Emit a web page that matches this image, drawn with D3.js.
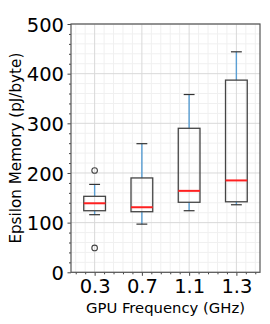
<!DOCTYPE html>
<html><head><meta charset="utf-8">
<script src="https://cdn.jsdelivr.net/npm/d3@7"></script>
<style>body{margin:0;background:#fff}svg{display:block}text{font-family:"DejaVu Sans",sans-serif;fill:#000}</style>
</head><body>
<svg id="c" width="270" height="324"></svg>
<script>
const categories = ["0.3", "0.7", "1.1", "1.3"];
const whiskerLow = [116, 97, 124, 136];
const q1 = [124, 122, 141, 142];
const median = [139, 131, 164, 185];
const q3 = [153, 190, 290, 387];
const whiskerHigh = [177, 259, 358, 444];
const outliers = [[205, 49], [], [], []];
const yTicks = [0, 100, 200, 300, 400, 500];

const svg = d3.select("#c");
const L = 71, R = 260, T = 24, B = 272.3;
const x = d3.scaleLinear().domain([0.5, categories.length + 0.5]).range([L, R]);
const y = d3.scaleLinear().domain([0, 500]).range([B, T]);

// minor grid
const minorX = d3.range(0.6, 4.5, 0.2).filter(v => Math.abs(v - Math.round(v)) > 0.01);
const minorY = d3.range(20, 500, 20).filter(v => v % 100 !== 0);
const g = svg.append("g");
g.selectAll(".mx").data(minorX).join("line").attr("x1", d => x(d)).attr("x2", d => x(d))
  .attr("y1", T).attr("y2", B).attr("stroke", "#f0f0f0").attr("stroke-width", 1);
g.selectAll(".my").data(minorY).join("line").attr("y1", d => y(d)).attr("y2", d => y(d))
  .attr("x1", L).attr("x2", R).attr("stroke", "#f0f0f0").attr("stroke-width", 1);
// major grid
g.selectAll(".gx").data(categories).join("line").attr("x1", (d, i) => x(i + 1)).attr("x2", (d, i) => x(i + 1))
  .attr("y1", T).attr("y2", B).attr("stroke", "#d9d9d9").attr("stroke-width", 1);
g.selectAll(".gy").data(yTicks).join("line").attr("y1", d => y(d)).attr("y2", d => y(d))
  .attr("x1", L).attr("x2", R).attr("stroke", "#d9d9d9").attr("stroke-width", 1);

// axes
const yAxis = svg.append("g").attr("transform", `translate(${L},0)`)
  .call(d3.axisLeft(y).tickValues(yTicks).tickSize(3.5).tickPadding(3.5).tickFormat(d3.format("d")));
yAxis.select(".domain").remove();
yAxis.selectAll("text").style("font-size", "19.5px").attr("dy", "0.36em");
const yMinor = svg.append("g").attr("transform", `translate(${L},0)`)
  .call(d3.axisLeft(y).tickValues(minorY).tickSize(2).tickFormat(""));
yMinor.select(".domain").remove();

const xAxis = svg.append("g").attr("transform", `translate(0,${B})`)
  .call(d3.axisBottom(x).tickValues(categories.map((d, i) => i + 1)).tickSize(3.5).tickPadding(3)
    .tickFormat((d, i) => categories[i]));
xAxis.select(".domain").remove();
xAxis.selectAll("text").style("font-size", "19.5px");
const xMinor = svg.append("g").attr("transform", `translate(0,${B})`)
  .call(d3.axisBottom(x).tickValues(minorX).tickSize(2).tickFormat(""));
xMinor.select(".domain").remove();
svg.selectAll(".tick line").attr("stroke", "#444");

// frame
svg.append("rect").attr("x", L).attr("y", T).attr("width", R - L).attr("height", B - T)
  .attr("fill", "none").attr("stroke", "#555").attr("stroke-width", 1.2);

// boxes
const bw = 0.46, cw = 0.23;
const box = svg.append("g");
categories.forEach((c, i) => {
  const cx = i + 1;
  // whiskers
  box.append("line").attr("x1", x(cx)).attr("x2", x(cx)).attr("y1", y(q3[i])).attr("y2", y(whiskerHigh[i]))
    .attr("stroke", "#5a9fd4").attr("stroke-width", 1.4);
  box.append("line").attr("x1", x(cx)).attr("x2", x(cx)).attr("y1", y(q1[i])).attr("y2", y(whiskerLow[i]))
    .attr("stroke", "#5a9fd4").attr("stroke-width", 1.4);
  // caps
  [whiskerHigh[i], whiskerLow[i]].forEach(v => {
    box.append("line").attr("x1", x(cx - cw / 2)).attr("x2", x(cx + cw / 2)).attr("y1", y(v)).attr("y2", y(v))
      .attr("stroke", "#333").attr("stroke-width", 1.2);
  });
  box.append("rect").attr("x", x(cx - bw / 2)).attr("width", x(cx + bw / 2) - x(cx - bw / 2))
    .attr("y", y(q3[i])).attr("height", y(q1[i]) - y(q3[i]))
    .attr("fill", "none").attr("stroke", "#444").attr("stroke-width", 1.3);
  box.append("line").attr("x1", x(cx - bw / 2)).attr("x2", x(cx + bw / 2)).attr("y1", y(median[i])).attr("y2", y(median[i]))
    .attr("stroke", "#ff2020").attr("stroke-width", 2);
  outliers[i].forEach(v => {
    box.append("circle").attr("cx", x(cx)).attr("cy", y(v)).attr("r", 2.8)
      .attr("fill", "none").attr("stroke", "#444").attr("stroke-width", 1.1);
  });
});

// labels
svg.append("text").attr("x", (L + R) / 2).attr("y", 313).attr("text-anchor", "middle")
  .style("font-size", "14.8px").text("GPU Frequency (GHz)");
svg.append("text").attr("transform", `translate(20.5,${(T + B) / 2}) rotate(-90)`).attr("text-anchor", "middle")
  .style("font-size", "15.2px").text("Epsilon Memory (pJ/byte)");
</script>
</body></html>
